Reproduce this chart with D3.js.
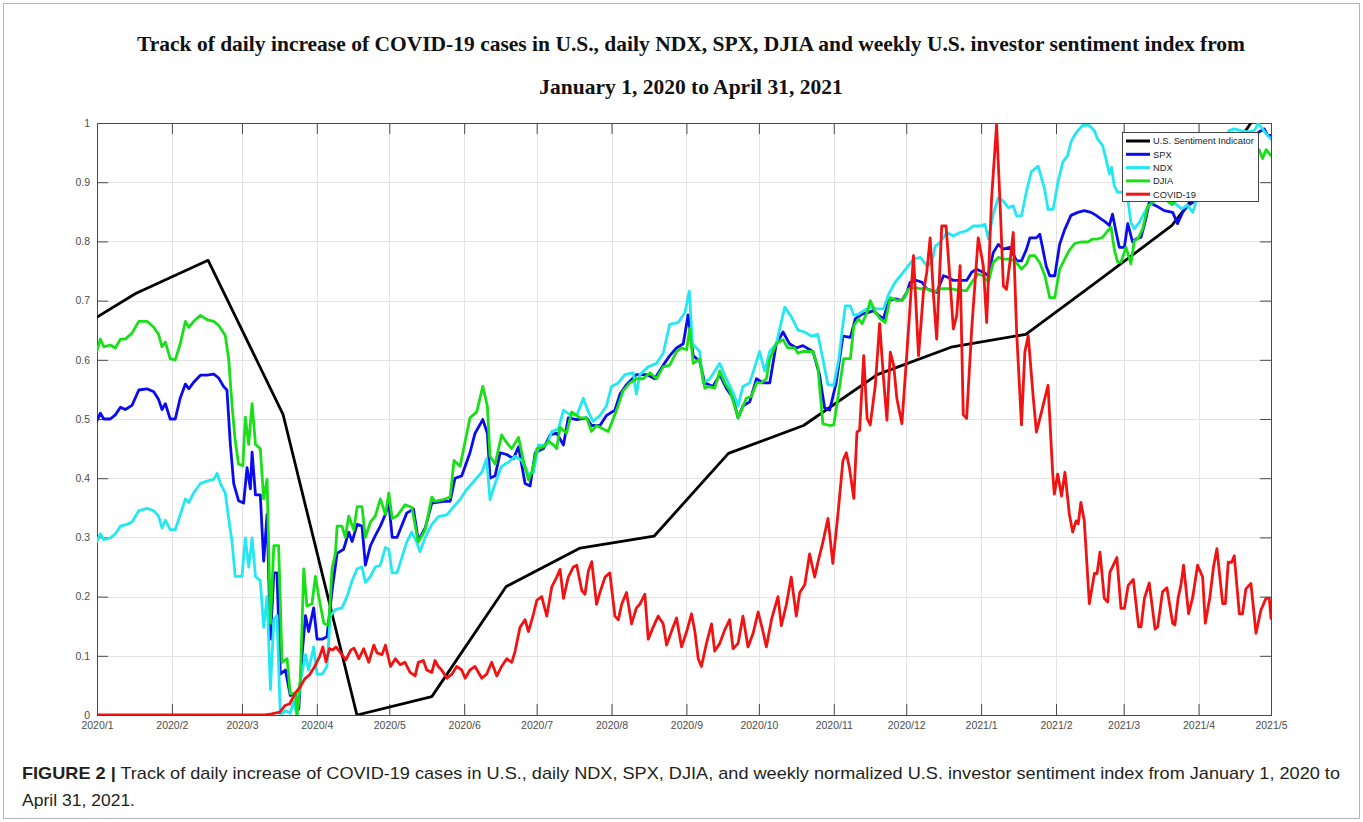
<!DOCTYPE html>
<html>
<head>
<meta charset="utf-8">
<script src="https://cdn.jsdelivr.net/npm/d3@7/dist/d3.min.js"></script>
<style>
  html, body { margin: 0; padding: 0; background: #fff; }
  svg { display: block; }
</style>
</head>
<body>
<script>
// ---- DATA: [day offset from 2020-01-01, normalized value] ----
const sentimentData = [[0,0.672],[16,0.712],[46,0.768],[77,0.508],[107.6,0],[138.6,0.031],[169.4,0.217],[200,0.282],[230.6,0.302],[261.4,0.442],[292.5,0.489],[323,0.575],[354.1,0.622],[384.5,0.643],[414,0.732],[445,0.827],[476,0.99],[486,1.05]];

const spxData = [[0,0.497],[1.4,0.51],[2.8,0.5],[5.5,0.5],[7.6,0.507],[9.7,0.52],[11.7,0.516],[14.5,0.523],[17.3,0.549],[20.7,0.551],[23.5,0.546],[25.5,0.533],[26.9,0.516],[28.3,0.526],[30.3,0.5],[32.4,0.5],[34.5,0.536],[36.6,0.559],[38,0.551],[40,0.562],[42.8,0.574],[45.5,0.574],[48.3,0.576],[50.4,0.569],[52.4,0.555],[53.8,0.549],[55.2,0.457],[56.6,0.391],[58.6,0.362],[60.7,0.358],[62.1,0.418],[63.5,0.382],[64.2,0.444],[65.6,0.372],[67.6,0.372],[69,0.26],[70.4,0.339],[71.8,0.128],[73.2,0.24],[74.5,0.24],[75.9,0.069],[78,0.076],[80,0.033],[82.1,0.036],[83.5,0.01],[84.9,0.102],[86.3,0.168],[87.6,0.141],[89.7,0.181],[91.1,0.128],[93.2,0.128],[95.2,0.132],[97.3,0.21],[99.4,0.273],[102.1,0.28],[104.2,0.309],[105.6,0.293],[107.7,0.322],[109.7,0.319],[111.1,0.253],[113.2,0.286],[115.2,0.303],[117.3,0.319],[119.4,0.339],[120.8,0.359],[122.2,0.3],[124.2,0.3],[128.2,0.341],[131,0.348],[133,0.295],[135.8,0.315],[138.6,0.358],[143.4,0.361],[146.2,0.361],[148.2,0.4],[151,0.404],[154.4,0.443],[156.5,0.476],[159.7,0.499],[161.6,0.476],[162.7,0.4],[164.8,0.404],[166.9,0.443],[169.6,0.44],[172.4,0.433],[174.5,0.453],[177.2,0.391],[179.3,0.387],[181.4,0.443],[184.8,0.45],[187.6,0.473],[190.3,0.476],[193.1,0.456],[195.1,0.502],[198.6,0.499],[202.7,0.502],[204.7,0.489],[208.2,0.489],[210.9,0.506],[214.4,0.515],[216.5,0.542],[219.2,0.558],[223.3,0.575],[227.5,0.575],[230.9,0.568],[234.4,0.591],[237.1,0.607],[239.9,0.62],[242.7,0.627],[244.7,0.676],[246.8,0.607],[249.5,0.597],[251.6,0.561],[255,0.555],[257.8,0.575],[260.5,0.552],[263.3,0.535],[265.4,0.502],[267.4,0.522],[270.2,0.529],[273,0.568],[275.7,0.561],[278.5,0.561],[281.2,0.627],[284,0.647],[286.7,0.627],[289.5,0.62],[292.2,0.624],[296.4,0.614],[299.1,0.575],[301.2,0.519],[303.3,0.515],[306,0.561],[308.8,0.64],[311.9,0.638],[313.9,0.669],[316.7,0.677],[319.4,0.68],[321.5,0.683],[323.6,0.675],[325.6,0.669],[327.7,0.7],[330.4,0.703],[333.2,0.7],[335.3,0.714],[336.6,0.731],[339.4,0.734],[341.5,0.731],[343.5,0.72],[345.6,0.717],[347.6,0.714],[350.4,0.742],[352.5,0.739],[354.5,0.734],[357.3,0.734],[360,0.734],[362.1,0.748],[364.1,0.753],[366.9,0.748],[369,0.742],[371,0.781],[373.1,0.795],[375.2,0.787],[377.9,0.79],[380.7,0.767],[382.7,0.767],[384.8,0.787],[386.2,0.806],[388.9,0.806],[390.3,0.812],[391.7,0.784],[392.9,0.759],[394.4,0.742],[396.5,0.742],[398.5,0.795],[400.6,0.82],[403.2,0.844],[406,0.849],[408.7,0.852],[411.5,0.849],[413.6,0.844],[415.6,0.838],[417.7,0.832],[419.1,0.827],[420.4,0.846],[421.9,0.815],[423.2,0.79],[425.3,0.79],[426.7,0.83],[428.7,0.799],[430.1,0.804],[432.2,0.807],[434.2,0.838],[435.6,0.866],[438.5,0.86],[441.8,0.852],[445.3,0.849],[447.3,0.83],[449.4,0.849],[451.5,0.86],[453.6,0.866],[458,0.89],[463,0.92],[468,0.95],[473,0.965],[478,0.975],[481.1,0.985],[483.2,0.99],[484.6,0.979],[486,0.979]];

const ndxData = [[0,0.293],[1.4,0.306],[2.8,0.296],[5.5,0.299],[7.6,0.306],[9.7,0.319],[12.4,0.322],[14.5,0.326],[17.3,0.345],[20.7,0.349],[23.5,0.345],[25.5,0.336],[26.9,0.316],[28.3,0.329],[30.3,0.313],[32.4,0.313],[34.5,0.339],[36.6,0.365],[38,0.359],[40,0.375],[42.8,0.391],[45.5,0.395],[48.3,0.398],[49.7,0.408],[51.1,0.391],[53.1,0.375],[54.5,0.332],[55.9,0.293],[57.2,0.234],[60,0.234],[61.4,0.299],[62.8,0.25],[64.2,0.299],[65.6,0.234],[67.6,0.227],[69,0.148],[70.4,0.2],[71.8,0.043],[73.2,0.161],[74.5,0.168],[75.9,0],[78,0.007],[80,0.003],[81.4,0.023],[82.8,0],[84.2,0.056],[86.3,0.102],[87.6,0.076],[89.7,0.115],[91.1,0.069],[93.2,0.069],[95.2,0.082],[96.6,0.168],[98.7,0.178],[101.4,0.181],[103.5,0.2],[105.6,0.227],[107.7,0.247],[109.7,0.25],[111.1,0.224],[113.2,0.234],[115.2,0.25],[117.3,0.253],[119.4,0.283],[120.8,0.28],[122.2,0.24],[124.2,0.24],[128.2,0.292],[130.3,0.309],[132.3,0.292],[133.7,0.276],[135.8,0.299],[138.6,0.322],[141.3,0.335],[144.8,0.338],[147.5,0.351],[150.3,0.364],[153,0.381],[156.5,0.397],[159.3,0.41],[161.3,0.433],[162.7,0.364],[164.8,0.391],[167.5,0.42],[170.3,0.427],[173.1,0.437],[175.8,0.43],[178.6,0.407],[180.7,0.41],[182.8,0.456],[186.2,0.456],[188.3,0.479],[191,0.483],[193.1,0.515],[195.1,0.509],[198.6,0.506],[201.3,0.535],[203.4,0.512],[205.4,0.496],[208.2,0.506],[210.9,0.522],[213,0.555],[215.8,0.561],[218.5,0.575],[222,0.578],[223.3,0.542],[224.7,0.575],[228.2,0.588],[231.6,0.594],[234.4,0.611],[237.1,0.66],[240.6,0.663],[243.4,0.68],[245.2,0.716],[246.5,0.627],[249.5,0.614],[250.9,0.561],[253.7,0.568],[257.8,0.594],[260.5,0.568],[263.3,0.545],[265.4,0.522],[267.4,0.555],[270.2,0.561],[272.3,0.588],[274.3,0.614],[276.4,0.581],[278.5,0.614],[281.2,0.627],[284.7,0.689],[287.4,0.673],[290.2,0.65],[292.9,0.647],[295.7,0.64],[298.4,0.643],[300.5,0.601],[302.6,0.558],[305,0.557],[307.1,0.602],[308.4,0.647],[309.8,0.691],[311.9,0.691],[313.3,0.675],[315.3,0.677],[317.4,0.683],[320.1,0.689],[322.9,0.686],[325.6,0.686],[327.7,0.711],[330.4,0.731],[333.2,0.745],[335.9,0.759],[338,0.77],[340.8,0.773],[343.5,0.759],[345.6,0.764],[347,0.792],[349,0.798],[351.8,0.815],[354.5,0.809],[357.3,0.815],[360,0.818],[362.8,0.826],[365.5,0.826],[367.6,0.829],[369,0.804],[371,0.846],[373.1,0.874],[375.2,0.868],[377.2,0.857],[379.3,0.86],[380.7,0.843],[382.7,0.843],[384.8,0.885],[386.8,0.918],[389.6,0.927],[391,0.907],[392.3,0.888],[393.7,0.854],[395.8,0.854],[397.8,0.9],[399.8,0.934],[401.8,0.945],[403.2,0.968],[404.6,0.979],[406,0.987],[408,0.996],[410.8,0.996],[412.9,0.987],[414.2,0.973],[416.3,0.962],[417.7,0.939],[419.1,0.914],[420,0.925],[421.1,0.894],[422.5,0.883],[424.6,0.883],[426.7,0.872],[428,0.832],[429.4,0.821],[431.5,0.832],[433.6,0.849],[435,0.858],[438,0.87],[442,0.875],[446,0.865],[449,0.855],[451.5,0.861],[453.6,0.849],[454.9,0.866],[458,0.9],[462,0.93],[465,0.96],[468.7,0.987],[470.8,0.99],[473.6,0.987],[476.3,0.985],[479.1,0.987],[480.7,0.999],[482.5,0.99],[483.9,0.982],[486,0.973]];

const djiaData = [[0,0.615],[1.4,0.635],[2.8,0.622],[5.5,0.625],[7.6,0.62],[9.7,0.635],[11.7,0.635],[14.5,0.645],[17.3,0.665],[20.7,0.665],[23.5,0.655],[25.5,0.643],[26.9,0.622],[28.3,0.63],[30.3,0.602],[32.4,0.6],[34.5,0.628],[36.6,0.665],[38,0.655],[40,0.665],[42.8,0.675],[45.5,0.668],[48.3,0.665],[50.4,0.658],[53.1,0.641],[54.5,0.602],[55.9,0.523],[57.2,0.464],[58.6,0.424],[60.4,0.421],[61.4,0.503],[62.8,0.457],[64.2,0.526],[65.6,0.457],[67.6,0.45],[69,0.365],[70.4,0.398],[71.8,0.155],[73.2,0.286],[75.2,0.286],[76.6,0.089],[78.7,0.095],[80,0.036],[82.1,0.036],[82.8,0],[84.2,0.063],[85.6,0.247],[86.9,0.184],[89,0.188],[90.4,0.234],[91.8,0.2],[93.9,0.155],[95.9,0.151],[97.3,0.247],[98.7,0.273],[99.4,0.319],[101.4,0.319],[102.8,0.3],[104.2,0.336],[106.3,0.313],[107.7,0.352],[109.7,0.352],[111.1,0.3],[113.2,0.326],[115.2,0.336],[117.3,0.365],[119.4,0.339],[120.8,0.375],[122.2,0.332],[124.2,0.336],[127.5,0.355],[130.3,0.351],[133,0.292],[135.8,0.312],[138.6,0.368],[139.9,0.361],[143.4,0.364],[146.2,0.368],[147.8,0.43],[150.3,0.42],[154.4,0.502],[157.2,0.512],[159.7,0.555],[161.6,0.522],[162.7,0.437],[164.8,0.424],[167.5,0.473],[169.6,0.46],[171.7,0.45],[174.5,0.469],[176.5,0.43],[178.6,0.397],[180,0.41],[182.1,0.45],[184.8,0.453],[186.9,0.463],[189,0.456],[190.3,0.45],[191.7,0.486],[194.4,0.476],[196.5,0.512],[199.9,0.502],[202.7,0.502],[204.7,0.479],[206.8,0.489],[209.6,0.483],[211.6,0.479],[215.1,0.515],[217.8,0.548],[220.6,0.561],[223.3,0.568],[226.1,0.568],[228.9,0.578],[231.6,0.568],[234.4,0.588],[237.1,0.591],[239.9,0.614],[242,0.62],[244.1,0.617],[245.4,0.653],[246.8,0.594],[249.5,0.601],[251.6,0.552],[253,0.555],[255.7,0.552],[257.8,0.581],[259.9,0.561],[261.9,0.548],[264,0.522],[265.4,0.502],[266.8,0.515],[268.8,0.535],[270.9,0.538],[273,0.561],[275,0.561],[277.1,0.568],[278.5,0.601],[281.2,0.627],[284,0.634],[286,0.62],[288.8,0.62],[290.2,0.611],[292.2,0.614],[296.4,0.614],[298.4,0.588],[300.5,0.492],[303.3,0.489],[305,0.49],[307.1,0.546],[309.1,0.602],[311.9,0.602],[313.3,0.658],[315.3,0.669],[316.7,0.661],[318.8,0.68],[320.1,0.7],[322.2,0.68],[324.3,0.669],[326.3,0.663],[328.4,0.705],[331.1,0.7],[333.2,0.7],[334.6,0.708],[336,0.72],[338.7,0.722],[340.8,0.72],[343.5,0.72],[346.3,0.714],[349,0.72],[353.8,0.72],[357.3,0.717],[360,0.717],[362.1,0.731],[364.8,0.745],[366.9,0.742],[369,0.731],[371,0.764],[373.1,0.773],[375.2,0.77],[377.9,0.77],[380,0.767],[382.7,0.753],[384.8,0.762],[386.2,0.776],[388.2,0.776],[390.3,0.764],[392.4,0.742],[394.4,0.705],[396.5,0.705],[398.5,0.753],[400.6,0.77],[402.5,0.785],[404.6,0.796],[407.3,0.799],[410.1,0.799],[412.2,0.804],[414.2,0.804],[416.3,0.807],[418.4,0.818],[419.8,0.824],[421.1,0.787],[422.5,0.765],[423.9,0.765],[426,0.79],[428,0.762],[429.4,0.801],[430.8,0.804],[432.9,0.821],[434.9,0.858],[437.7,0.869],[441,0.875],[445,0.862],[449,0.878],[453,0.87],[457,0.89],[462,0.91],[467,0.925],[472,0.935],[477,0.945],[481.1,0.955],[482.5,0.94],[484,0.955],[486,0.945]];

const covidData = [[0,0],[69.6,0],[72.3,0.002],[75.7,0.005],[77.8,0.016],[79.8,0.019],[81.9,0.036],[84,0.047],[86,0.061],[88,0.068],[90,0.081],[92.1,0.098],[93.5,0.115],[94.8,0.09],[96.2,0.112],[97.6,0.11],[98.9,0.115],[101,0.104],[103,0.093],[105.1,0.11],[106.4,0.113],[108.4,0.095],[110.4,0.112],[112.5,0.089],[114.6,0.118],[115.9,0.105],[118,0.102],[119.4,0.118],[121.5,0.082],[123.5,0.095],[125.5,0.085],[127.5,0.089],[129.6,0.072],[131.7,0.066],[133,0.089],[135.1,0.092],[136.5,0.076],[138.6,0.072],[139.9,0.092],[141.3,0.082],[142.7,0.076],[144.8,0.062],[146.9,0.069],[148.9,0.082],[151,0.076],[152.4,0.062],[154.4,0.076],[156.5,0.082],[159.3,0.062],[161.3,0.069],[163.4,0.089],[165.5,0.066],[167.5,0.082],[169.6,0.095],[171.7,0.089],[173.1,0.108],[175.1,0.148],[177.2,0.161],[178.6,0.141],[180.7,0.171],[182.1,0.194],[184.1,0.2],[186.2,0.167],[188.3,0.217],[190.3,0.233],[191.7,0.246],[193.1,0.197],[195.1,0.233],[197.2,0.25],[198.6,0.253],[200.7,0.21],[202,0.204],[203.4,0.243],[204.8,0.259],[206.8,0.187],[208.2,0.207],[210.3,0.233],[212.3,0.24],[214.4,0.167],[215.8,0.161],[217.2,0.187],[219.2,0.207],[221.3,0.154],[223.3,0.181],[224.7,0.187],[226.8,0.204],[228.2,0.128],[230.2,0.148],[232.3,0.167],[234.4,0.154],[235.8,0.118],[237.8,0.141],[239.9,0.164],[242,0.115],[244.1,0.141],[246.1,0.171],[247.5,0.141],[248.9,0.095],[250.2,0.082],[252.3,0.121],[254.4,0.154],[255.7,0.108],[257.8,0.121],[259.9,0.144],[261.9,0.161],[263.3,0.112],[265.4,0.121],[267.4,0.167],[269.5,0.115],[271.6,0.138],[273.7,0.174],[275.7,0.141],[277.1,0.115],[279.2,0.161],[281.9,0.2],[283.3,0.151],[285.4,0.187],[287.4,0.233],[289.5,0.167],[290.9,0.207],[293,0.22],[295,0.272],[297.1,0.233],[298.5,0.259],[300.5,0.292],[302.6,0.332],[304.6,0.256],[306.7,0.338],[308.8,0.43],[310.2,0.443],[311.5,0.417],[313.3,0.366],[314.6,0.478],[315.7,0.481],[317.4,0.607],[318.8,0.501],[320.1,0.49],[322.2,0.557],[324,0.661],[325.6,0.568],[327,0.498],[328.4,0.613],[329.8,0.591],[331.1,0.535],[333.2,0.492],[335.3,0.613],[338,0.776],[340.1,0.607],[342.1,0.714],[343.5,0.748],[344.9,0.806],[346.3,0.708],[347.6,0.635],[349.7,0.826],[351.5,0.826],[353.1,0.736],[354.5,0.652],[355.9,0.675],[357.3,0.759],[358.6,0.507],[360,0.501],[362.1,0.652],[364.8,0.806],[366.9,0.759],[368.3,0.663],[370.3,0.871],[372.4,0.997],[373.8,0.868],[375.2,0.725],[376.5,0.719],[377.9,0.764],[379.3,0.815],[380.7,0.647],[382.7,0.49],[384.1,0.613],[385.5,0.641],[387.5,0.54],[388.9,0.478],[391,0.512],[393.7,0.557],[395.6,0.41],[396.3,0.373],[397.7,0.407],[399.3,0.37],[400.7,0.41],[402.5,0.34],[403.9,0.309],[405.3,0.328],[406.2,0.323],[407.3,0.359],[408.7,0.328],[410.8,0.188],[412.9,0.239],[414,0.239],[415.2,0.275],[417,0.197],[418.4,0.191],[419.3,0.241],[420.9,0.255],[422.2,0.266],[423.9,0.18],[425.3,0.18],[426.9,0.219],[429,0.229],[431.2,0.149],[432.2,0.149],[433.6,0.197],[435.6,0.223],[438,0.145],[439.1,0.149],[441.1,0.208],[442.9,0.215],[445.3,0.155],[446.2,0.152],[447.6,0.199],[448.7,0.219],[449.8,0.253],[451.9,0.171],[453.6,0.199],[455.6,0.253],[457.7,0.233],[458.8,0.155],[460.7,0.199],[462.2,0.25],[463.6,0.281],[466,0.188],[467.1,0.188],[468.3,0.258],[469.7,0.258],[470.8,0.269],[472.9,0.171],[474.2,0.171],[475.6,0.213],[477.7,0.222],[479.8,0.138],[481.8,0.177],[483.9,0.197],[485.3,0.197],[486,0.163]];

const yTickValues = [0,0.1,0.2,0.3,0.4,0.5,0.6,0.7,0.8,0.9,1];
const seriesNames = ["U.S. Sentiment Indicator","SPX","NDX","DJIA","COVID-19"];
const seriesColors = ["#000000","#0b0bf0","#22e8f4","#17e017","#f21212"];
const titleLines = ["Track of daily increase of COVID-19 cases in U.S., daily NDX, SPX, DJIA and weekly U.S. investor sentiment index from","January 1, 2020 to April 31, 2021"];
const captionBold = "FIGURE 2 |";
const captionLine1 = " Track of daily increase of COVID-19 cases in U.S., daily NDX, SPX, DJIA, and weekly normalized U.S. investor sentiment index from January 1, 2020 to";
const captionLine2 = "April 31, 2021.";

// ---- LAYOUT ----
const W = 1363, H = 822;
const plot = {left: 97, right: 1271, top: 123, bottom: 715};
const start = Date.UTC(2020,0,1), end = Date.UTC(2021,4,1);
const toDate = d => new Date(start + d*86400000);

const svg = d3.select("body").append("svg").attr("width", W).attr("height", H);
svg.append("rect").attr("width", W).attr("height", H).attr("fill", "#fff");
svg.append("rect").attr("x", 3.5).attr("y", 3.5).attr("width", W-7).attr("height", H-7)
  .attr("fill","none").attr("stroke","#b5b5b5").attr("stroke-width",1);

// Title
svg.append("g").selectAll("text").data(titleLines).join("text")
  .attr("x", 691).attr("y", (d,i) => 51 + i*43)
  .attr("text-anchor","middle")
  .attr("font-family","'Liberation Serif','Times New Roman',serif")
  .attr("font-weight","bold").attr("font-size", 21.5).attr("fill","#111")
  .text(d => d);

const x = d3.scaleUtc().domain([new Date(start), new Date(end)]).range([plot.left, plot.right]);
const y = d3.scaleLinear().domain([0,1]).range([plot.bottom, plot.top]);
const xTicks = d3.utcMonth.range(new Date(start), new Date(end + 1));
const fmtX = d => `${d.getUTCFullYear()}/${d.getUTCMonth()+1}`;
const fmtY = d => (d === 0 || d === 1) ? String(d) : d.toFixed(1);

// Grid
const grid = svg.append("g").attr("stroke","#e3e3e3").attr("stroke-width",1);
grid.selectAll(".gx").data(xTicks).join("line")
  .attr("x1", d => Math.round(x(d))+0.5).attr("x2", d => Math.round(x(d))+0.5)
  .attr("y1", plot.top).attr("y2", plot.bottom);
grid.selectAll(".gy").data(yTickValues).join("line")
  .attr("y1", d => Math.round(y(d))+0.5).attr("y2", d => Math.round(y(d))+0.5)
  .attr("x1", plot.left).attr("x2", plot.right);

// Axes
const axisFont = "'Liberation Sans',Arial,sans-serif";
const tickLen = 11;
const gxB = svg.append("g").attr("transform", `translate(0,${plot.bottom})`)
  .call(d3.axisBottom(x).tickValues(xTicks).tickFormat(fmtX).tickSizeInner(-tickLen).tickSizeOuter(0).tickPadding(7));
const gxT = svg.append("g").attr("transform", `translate(0,${plot.top})`)
  .call(d3.axisTop(x).tickValues(xTicks).tickFormat("").tickSizeInner(-tickLen).tickSizeOuter(0));
const gyL = svg.append("g").attr("transform", `translate(${plot.left},0)`)
  .call(d3.axisLeft(y).tickValues(yTickValues).tickFormat(fmtY).tickSizeInner(-tickLen).tickSizeOuter(0).tickPadding(7));
const gyR = svg.append("g").attr("transform", `translate(${plot.right},0)`)
  .call(d3.axisRight(y).tickValues(yTickValues).tickFormat("").tickSizeInner(-tickLen).tickSizeOuter(0));
[gxB,gxT,gyL,gyR].forEach(g => {
  g.select(".domain").remove();
  g.selectAll(".tick line").attr("stroke","#4a4a4a").attr("stroke-width",1);
  g.selectAll(".tick text").attr("fill","#4d4d4d").attr("font-family",axisFont).attr("font-size",10.5);
});

// Box
svg.append("rect").attr("x", plot.left+0.5).attr("y", plot.top+0.5)
  .attr("width", plot.right-plot.left).attr("height", plot.bottom-plot.top)
  .attr("fill","none").attr("stroke","#4a4a4a").attr("stroke-width",1);

// Lines
svg.append("clipPath").attr("id","clip").append("rect")
  .attr("x", plot.left).attr("y", plot.top).attr("width", plot.right-plot.left).attr("height", plot.bottom-plot.top);
const line = d3.line().x(d => x(toDate(d[0]))).y(d => y(d[1]));
const allSeries = [sentimentData, spxData, ndxData, djiaData, covidData];
const lg = svg.append("g").attr("clip-path","url(#clip)");
allSeries.forEach((s,i) => {
  lg.append("path").datum(s).attr("d", line).attr("fill","none")
    .attr("stroke", seriesColors[i]).attr("stroke-width", 2.8)
    .attr("stroke-linejoin","round").attr("stroke-linecap","round");
});

// Legend
const leg = svg.append("g");
leg.append("rect").attr("x",1122.5).attr("y",132.5).attr("width",136).attr("height",69)
  .attr("fill","#fff").attr("stroke","#333").attr("stroke-width",0.9);
const rows = leg.selectAll(".row").data(seriesNames).join("g")
  .attr("transform",(d,i) => `translate(0,${141 + i*13.3})`);
rows.append("line").attr("x1",1126).attr("x2",1150).attr("y1",0).attr("y2",0)
  .attr("stroke",(d,i) => seriesColors[i]).attr("stroke-width",3);
rows.append("text").attr("x",1153).attr("y",3.3).attr("font-family",axisFont)
  .attr("font-size",9.3).attr("fill","#222").text(d => d);

// Caption
const capFont = "'Liberation Sans Narrow','Liberation Sans',Arial,sans-serif";
const cap1 = svg.append("text").attr("x",22).attr("y",779).attr("font-family",capFont)
  .attr("font-size",17).attr("fill","#231f20")
  .attr("textLength",1318).attr("lengthAdjust","spacingAndGlyphs");
cap1.append("tspan").attr("font-weight","bold").text(captionBold);
cap1.append("tspan").text(captionLine1);
svg.append("text").attr("x",22).attr("y",806).attr("font-family",capFont)
  .attr("font-size",17).attr("fill","#231f20")
  .attr("textLength",113).attr("lengthAdjust","spacingAndGlyphs").text(captionLine2);
</script>
</body>
</html>
